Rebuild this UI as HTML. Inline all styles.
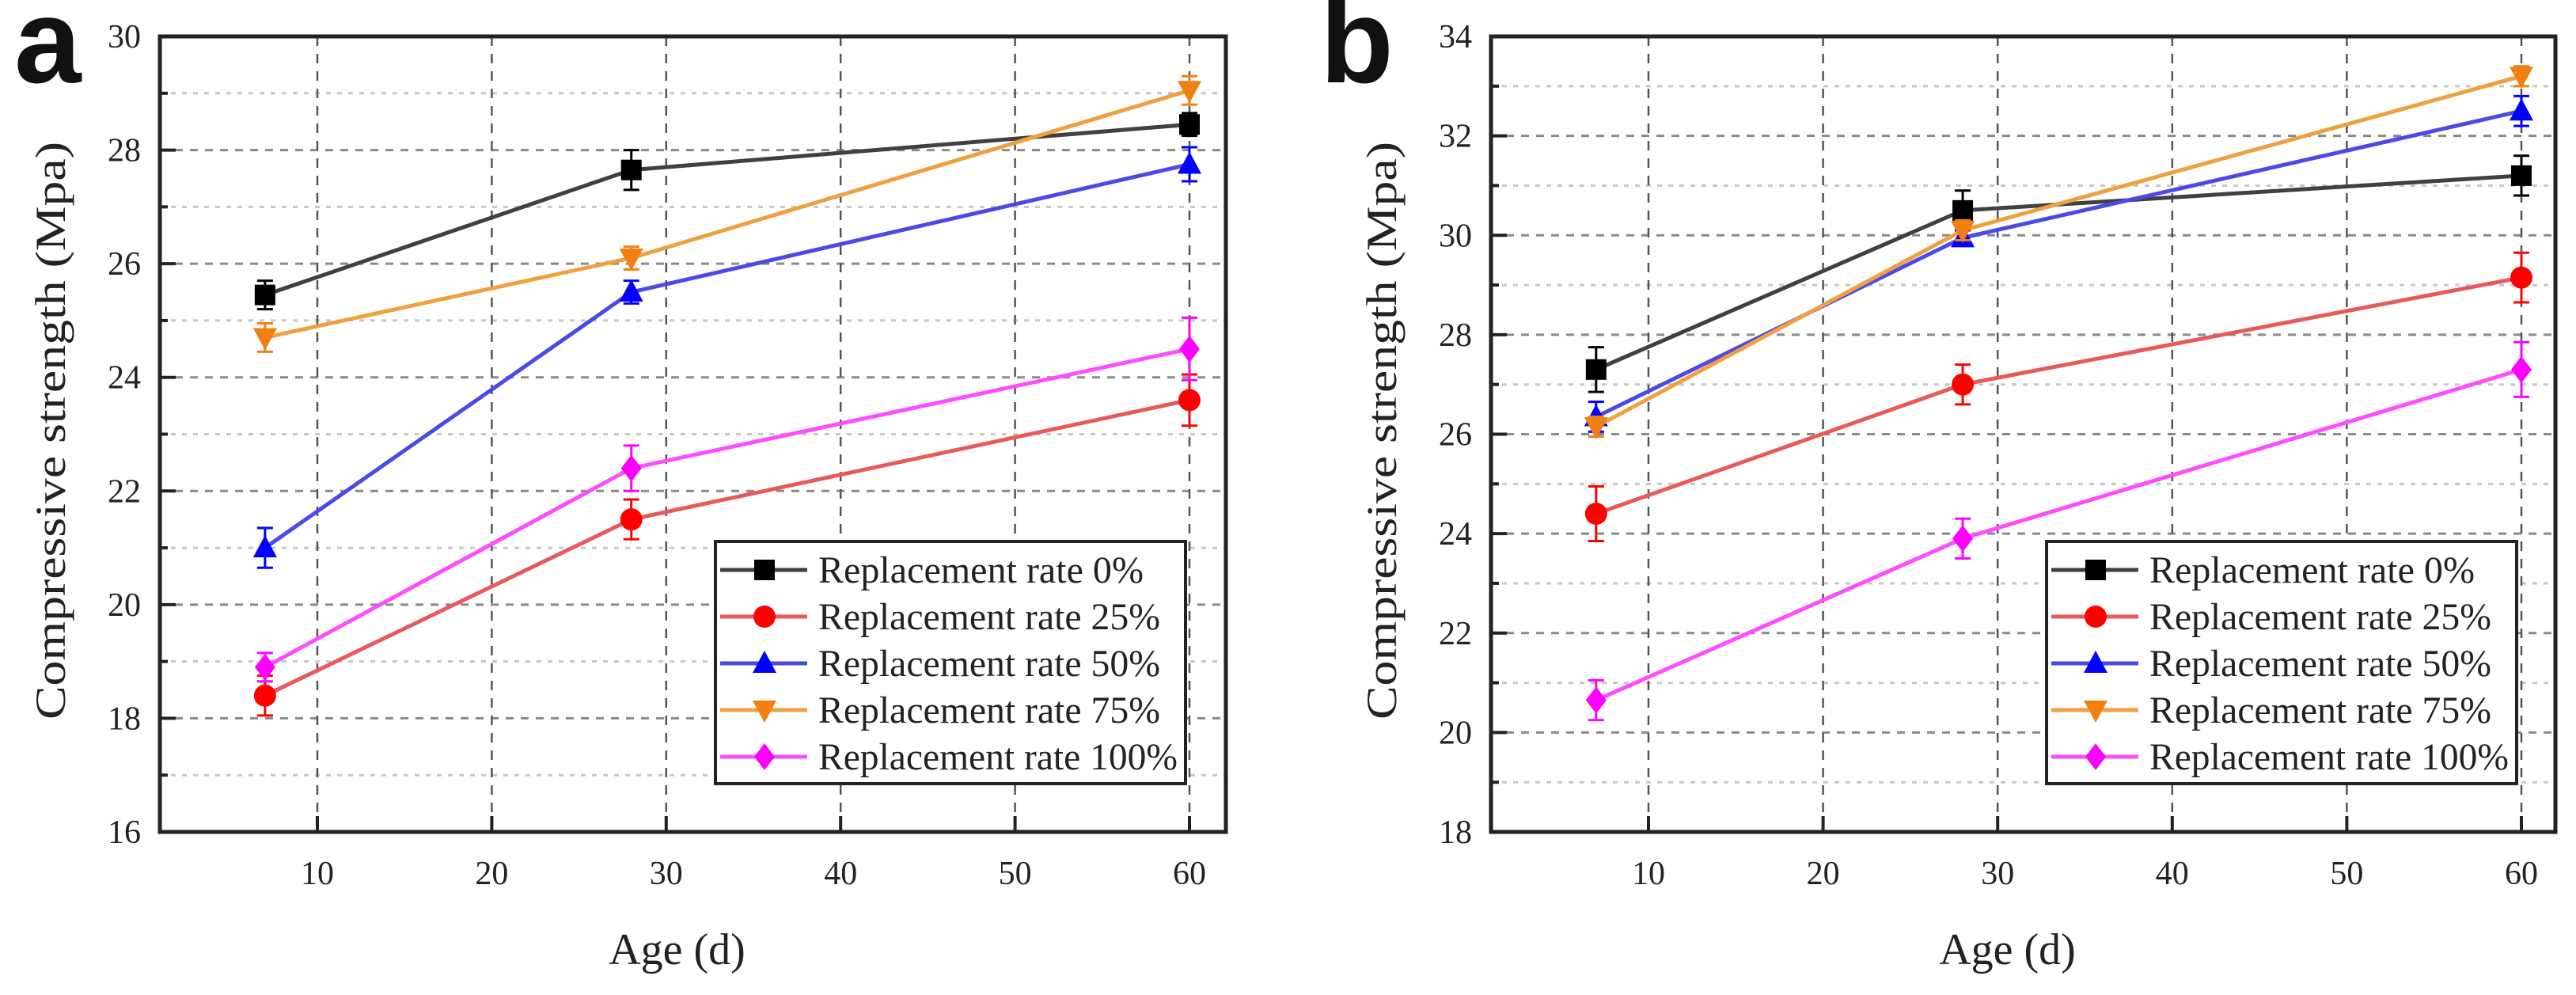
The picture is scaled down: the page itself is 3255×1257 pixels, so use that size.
<!DOCTYPE html>
<html><head><meta charset="utf-8"><style>
html,body{margin:0;padding:0;background:#fff;}
svg{display:block;font-family:"Liberation Serif",serif;}
</style></head><body>
<svg id="chart" width="3255" height="1257" viewBox="0 0 3255 1257" xmlns="http://www.w3.org/2000/svg"></svg>
<script>
const ages = [7, 28, 60];
const seriesNames = ["Replacement rate 0%","Replacement rate 25%","Replacement rate 50%","Replacement rate 75%","Replacement rate 100%"];
const aVals0 = [25.45, 27.65, 28.45];
const aVals25 = [18.4, 21.5, 23.6];
const aVals50 = [21.0, 25.5, 27.75];
const aVals75 = [24.7, 26.1, 29.05];
const aVals100 = [18.9, 22.4, 24.5];
const aErr0 = [0.25, 0.35, 0.2];
const aErr25 = [0.35, 0.35, 0.45];
const aErr50 = [0.35, 0.2, 0.3];
const aErr75 = [0.25, 0.2, 0.25];
const aErr100 = [0.25, 0.4, 0.55];
const bVals0 = [27.3, 30.5, 31.2];
const bVals25 = [24.4, 27.0, 29.15];
const bVals50 = [26.35, 29.95, 32.5];
const bVals75 = [26.15, 30.1, 33.2];
const bVals100 = [20.65, 23.9, 27.3];
const bErr0 = [0.45, 0.4, 0.4];
const bErr25 = [0.55, 0.4, 0.5];
const bErr50 = [0.3, 0.15, 0.3];
const bErr75 = [0.2, 0.2, 0.2];
const bErr100 = [0.4, 0.4, 0.55];
const xTicks = [10, 20, 30, 40, 50, 60];
const aYTicks = [16, 18, 20, 22, 24, 26, 28, 30];
const bYTicks = [18, 20, 22, 24, 26, 28, 30, 32, 34];

const NS = "http://www.w3.org/2000/svg";
const svg = document.getElementById("chart");
function mk(tag, attrs, parent){ const e=document.createElementNS(NS,tag); for(const k in attrs) e.setAttribute(k,attrs[k]); (parent||svg).appendChild(e); return e; }

const markerColors = ["#000000","#ff0000","#0000ff","#f08010","#ff00ff"];
const lineColors = ["#404040","#e85a5a","#4a4ae8","#f0a040","#ff4cff"];
const shapes = ["square","circle","up","down","diamond"];

function marker(g, shape, cx, cy, color){
  const s=13; let e;
  if(shape==="square") e=mk("rect",{x:cx-s,y:cy-s,width:2*s,height:2*s,fill:color},g);
  else if(shape==="circle") e=mk("circle",{cx:cx,cy:cy,r:s+1,fill:color},g);
  else if(shape==="up") e=mk("polygon",{points:`${cx},${cy-s-3} ${cx-s-2},${cy+s-1} ${cx+s+2},${cy+s-1}`,fill:color},g);
  else if(shape==="down") e=mk("polygon",{points:`${cx},${cy+s+3} ${cx-s-2},${cy-s+1} ${cx+s+2},${cy-s+1}`,fill:color},g);
  else e=mk("polygon",{points:`${cx},${cy-s-4} ${cx+s},${cy} ${cx},${cy+s+4} ${cx-s},${cy}`,fill:color},g);
  return e;
}

function panel(cfg){
  const {id,L,R,T,B,x10,x60,yMin,yMax,yTicks,vals,errs,legX,label,labelX} = cfg;
  const pxPer = (x60-x10)/50;
  const sx = v => x10 + (v-10)*pxPer;
  const sy = v => B - (v-yMin)/(yMax-yMin)*(B-T);
  const g = mk("g",{});
  
  
  for(let v=yMin+1; v<yMax; v+=2){
    const ln=mk("line",{x1:L,x2:R,y1:sy(v),y2:sy(v),stroke:"#c8c8c8","stroke-width":3,"stroke-dasharray":"6 8"},g);
    
    
    mk("line",{x1:L,x2:L+10,y1:sy(v),y2:sy(v),stroke:"#222","stroke-width":4},g);
  }
  yTicks.forEach(v=>{
    if(v>yMin && v<yMax){
      const ln=mk("line",{x1:L,x2:R,y1:sy(v),y2:sy(v),stroke:"#8a8a8a","stroke-width":3,"stroke-dasharray":"10 9"},g);
      
      
      mk("line",{x1:L,x2:L+20,y1:sy(v),y2:sy(v),stroke:"#222","stroke-width":4},g);
    }
    const t=mk("text",{x:L-24,y:sy(v)+14,"text-anchor":"end","font-size":42,fill:"#222"},g);
    t.textContent=v;
    
    
  });
  xTicks.forEach(v=>{
    const ln=mk("line",{x1:sx(v),x2:sx(v),y1:T,y2:B,stroke:"#555","stroke-width":2.5,"stroke-dasharray":"12 10"},g);
    
    
    mk("line",{x1:sx(v),x2:sx(v),y1:B,y2:B-20,stroke:"#222","stroke-width":4},g);
    const t=mk("text",{x:sx(v),y:B+66,"text-anchor":"middle","font-size":42,fill:"#222"},g);
    t.textContent=v;
    
    
  });
  vals.forEach((arr,si)=>{
    const sg=mk("g",{},g);
    
    
    mk("polyline",{points:arr.map((v,i)=>sx(ages[i])+","+sy(v)).join(" "),fill:"none",stroke:lineColors[si],"stroke-width":5},sg);
    arr.forEach((v,i)=>{
      const e=errs[si][i], cx=sx(ages[i]);
      mk("line",{x1:cx,x2:cx,y1:sy(v+e),y2:sy(v-e),stroke:markerColors[si],"stroke-width":3},sg);
      mk("line",{x1:cx-10,x2:cx+10,y1:sy(v+e),y2:sy(v+e),stroke:markerColors[si],"stroke-width":3},sg);
      mk("line",{x1:cx-10,x2:cx+10,y1:sy(v-e),y2:sy(v-e),stroke:markerColors[si],"stroke-width":3},sg);
      const m=marker(sg,shapes[si],cx,sy(v),markerColors[si]);
      
      
    });
  });
  const fr=mk("rect",{x:L,y:T,width:R-L,height:B-T,fill:"none",stroke:"#222","stroke-width":5},g);
  
  
  const lg=mk("g",{},g);
  
  
  mk("rect",{x:legX,y:684,width:594,height:306,fill:"#fff",stroke:"#222","stroke-width":4},lg);
  seriesNames.forEach((n,si)=>{
    const y=720+si*59;
    const eg=mk("g",{},lg);
    
    
    mk("line",{x1:legX+6,x2:legX+116,y1:y,y2:y,stroke:lineColors[si],"stroke-width":5},eg);
    marker(eg,shapes[si],legX+62,y,markerColors[si]);
    const t=mk("text",{x:legX+130,y:y+16,"font-size":48,fill:"#222",textLength:Math.round(454*n.length/21),lengthAdjust:"spacingAndGlyphs"},eg);
    t.textContent=n;
  });
  const yt=mk("text",{x:0,y:0,"font-size":54,fill:"#222","text-anchor":"middle",textLength:730,lengthAdjust:"spacingAndGlyphs",transform:`translate(${L-120},544) rotate(-90)`},g);
  yt.textContent="Compressive strength (Mpa)";
  
  
  const xt=mk("text",{x:(L+R)/2-20,y:1218,"font-size":56,fill:"#222","text-anchor":"middle"},g);
  xt.textContent="Age (d)";
  
  
  const pl=mk("text",{x:labelX,y:104,"font-size":152,"font-weight":"bold","font-family":"Liberation Sans, sans-serif",fill:"#111"},g);
  pl.textContent=label;
  
  
}

panel({id:"panel-a",L:202,R:1549,T:46,B:1051,x10:401,x60:1503,yMin:16,yMax:30,yTicks:aYTicks,
  vals:[aVals0,aVals25,aVals50,aVals75,aVals100],errs:[aErr0,aErr25,aErr50,aErr75,aErr100],legX:904,label:"a",labelX:18});
panel({id:"panel-b",L:1884,R:3229,T:46,B:1051,x10:2083,x60:3186,yMin:18,yMax:34,yTicks:bYTicks,
  vals:[bVals0,bVals25,bVals50,bVals75,bVals100],errs:[bErr0,bErr25,bErr50,bErr75,bErr100],legX:2586,label:"b",labelX:1668});
</script>
</body></html>
